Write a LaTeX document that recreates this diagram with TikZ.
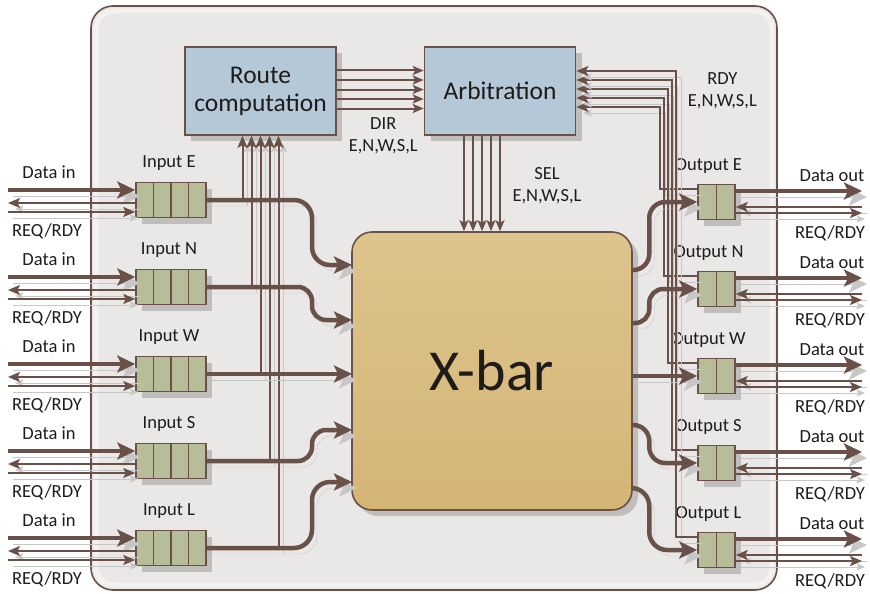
\documentclass[tikz,border=0pt]{standalone}
\usepackage{fontspec}
\setmainfont{Carlito}
\usetikzlibrary{arrows.meta, positioning, shadows, calc}

\definecolor{wire}{RGB}{105,80,72}
\definecolor{panel}{RGB}{234,232,230}
\definecolor{unitblue}{RGB}{180,200,216}
\definecolor{bufgreen}{RGB}{182,189,152}
\definecolor{xbartop}{RGB}{221,196,140}
\definecolor{xbarbot}{RGB}{212,181,118}
\definecolor{ink}{RGB}{30,28,27}

\begin{document}
\begin{tikzpicture}[
    x=1pt, y=-1pt,
    every node/.style={text=ink, font=\fontsize{18.5}{22}\selectfont},
    boxshadow/.style={drop shadow={shadow xshift=6pt, shadow yshift=-6pt, fill=black, opacity=0.18}},
    lshadow/.style={preaction={draw=black!22, transform canvas={shift={(5pt,-6pt)}}}},
    panelbox/.style={draw=wire, line width=1.6pt, fill=panel, rounded corners=22pt,
        minimum width=686pt, minimum height=584pt},
    unit/.style={draw=wire, line width=1.6pt, fill=unitblue, boxshadow, align=center,
        minimum width=151pt, minimum height=88pt, font=\fontsize{25.5}{28}\selectfont},
    xbarbox/.style={draw=wire, line width=1.6pt, rounded corners=20pt, top color=xbartop,
        bottom color=xbarbot, boxshadow, minimum width=280pt, minimum height=278pt,
        font=\fontsize{58}{60}\selectfont},
    inbuf/.style={draw=wire, line width=1.5pt, fill=bufgreen, boxshadow, inner sep=0pt,
        minimum width=70pt, minimum height=35pt,
        path picture={\foreach \c in {1,2,3}
            \draw[wire, line width=1.5pt]
              ($(path picture bounding box.north west)!\c/4!(path picture bounding box.north east)$) --
              ($(path picture bounding box.south west)!\c/4!(path picture bounding box.south east)$);}},
    outbuf/.style={draw=wire, line width=1.5pt, fill=bufgreen, boxshadow, inner sep=0pt,
        minimum width=37pt, minimum height=35pt,
        path picture={\draw[wire, line width=1.5pt] (path picture bounding box.north) --
              (path picture bounding box.south);}},
    bus/.style={wire, line width=4.5pt, lshadow, -{Stealth[length=18pt,width=17pt,inset=4pt]}},
    sig/.style={wire, line width=2pt, lshadow, -{Stealth[length=12pt,width=10pt,inset=2.5pt]}},
    wirebundle/.style={wire, line width=2pt, -{Stealth[length=11pt,width=9pt,inset=2.5pt]}}
]
\useasboundingbox (0,0) rectangle (870,594);

% ---------- BACKGROUND
\node[panelbox] (panel) at (434,298) {};
\draw[white, line width=5pt, opacity=0.45, rounded corners=18pt] (96,11) rectangle (772,585);

% ---------- MAIN BLOCKS
\node[unit] (route) at (260.5,91) {Route\\computation};
\node[unit] (arb) at (500,91) {Arbitration};
\node[xbarbox] (xbar) at (492,371) {X-bar};

% ---------- PORT BUFFERS
\foreach \d/\y in {E/200,N/287,W/374,S/461,L/548}{
  \node[inbuf] (in\d) at (171,\y) {};
  \node (inlab\d) at ([xshift=-2pt,yshift=19pt]in\d.north) {Input \d};
  \node[outbuf] (out\d) at (716.5,{\y+2}) {};
  \node (outlab\d) at ([xshift=-8pt,yshift=18pt]out\d.north) {Output \d};
  \coordinate (edgeL\d) at (8,\y);
  \coordinate (edgeR\d) at (862,{\y+2});
}

% ---------- X-BAR PORTS
\foreach \d/\yi/\yo in {E/265/270,N/320/323,W/374/376,S/430/425,L/482/488}{
  \coordinate (xin\d) at (352,\yi);
  \coordinate (xout\d) at (632,\yo);
}

% ---------- DIR (route -> arbitration)
\foreach \k in {1,...,5}
  \draw[wirebundle] ([yshift={(3-\k)*9.5pt+1.5pt}]route.east) -- ([yshift={(3-\k)*9.5pt+1.5pt}]arb.west);
\node[align=center] (dirlab) at ($(route.east)!.5!(arb.west)+(3,45)$) {DIR\\E,N,W,S,L};

% ---------- SEL (arbitration -> x-bar)
\foreach \k in {1,...,5}{
  \coordinate (sel\k) at ([xshift={(\k-3)*9pt-18pt}]arb.south);
  \draw[wirebundle] (sel\k) -- (sel\k |- xbar.north);
}
\node[align=center] (sellab) at ($(arb.south)+(47,50)$) {SEL\\E,N,W,S,L};

% ---------- RDY (outputs -> arbitration)
\foreach \d/\k in {E/0,N/1,W/2,S/3,L/4}{
  \coordinate (rdy\d) at ({660+4*\k},{107-9*\k});
  \draw[sig] ([yshift=-5pt]out\d.north west) -| (rdy\d) -- (rdy\d -| arb.east);
}
\node[align=center] (rdylab) at ($(arb.east)+(146,0)$) {RDY\\E,N,W,S,L};

% ---------- HEADERS (inputs -> route computation)
\foreach \d/\o in {E/-18,N/-9,W/0,S/9,L/18}{
  \coordinate (rc\d) at ([xshift=\o pt]route.south);
  \draw[sig] (in\d.east -| rc\d) -- (rc\d);
}

% ---------- LINK SIDE
\foreach \d in {E,N,W,S,L}{
  \draw[bus] ([yshift=10pt]edgeL\d) -- ([yshift=10pt]in\d.west);
  \draw[sig] ([yshift=-3pt]in\d.west) -- ([yshift=-3pt]edgeL\d);
  \draw[sig] ([yshift=-12pt]edgeL\d) -- ([yshift=-12pt]in\d.west);
  \node (dinlab\d) at ([xshift=41pt,yshift=28pt]edgeL\d) {Data in};
  \node (reqinlab\d) at ([xshift=39pt,yshift=-31pt]edgeL\d) {REQ/RDY};
  \draw[bus] ([yshift=11pt]out\d.east) -- ([yshift=11pt]edgeR\d);
  \draw[sig] ([yshift=-5pt]edgeR\d) -- ([yshift=-5pt]out\d.east);
  \draw[sig] ([yshift=-11pt]out\d.east) -- ([yshift=-11pt]edgeR\d);
  \node (doutlab\d) at ([xshift=-30pt,yshift=26pt]edgeR\d) {Data out};
  \node (reqoutlab\d) at ([xshift=-32pt,yshift=-31pt]edgeR\d) {REQ/RDY};
}

% ---------- INPUTS -> X-BAR
\draw[bus, rounded corners=18pt] (inE.east) -| ([xshift=-40pt]xinE) -- (xinE);
\draw[bus, rounded corners=14pt] (inN.east) -| ([xshift=-40pt]xinN) -- (xinN);
\draw[bus] (inW.east) -- (xinW);
\draw[bus, rounded corners=14pt] (inS.east) -| ([xshift=-40pt]xinS) -- (xinS);
\draw[bus, rounded corners=18pt] (inL.east) -| ([xshift=-40pt]xinL) -- (xinL);

% ---------- X-BAR -> OUTPUTS
\draw[bus, rounded corners=16pt] (xoutE) -| ([xshift=-48pt]outE.west) -- (outE.west);
\draw[bus, rounded corners=14pt] (xoutN) -| ([xshift=-48pt]outN.west) -- (outN.west);
\draw[bus] (xoutW) -- (outW.west);
\draw[bus, rounded corners=16pt] (xoutS) -| ([xshift=-48pt]outS.west) -- (outS.west);
\draw[bus, rounded corners=18pt] (xoutL) -| ([xshift=-48pt]outL.west) -- (outL.west);

\end{tikzpicture}
\end{document}
